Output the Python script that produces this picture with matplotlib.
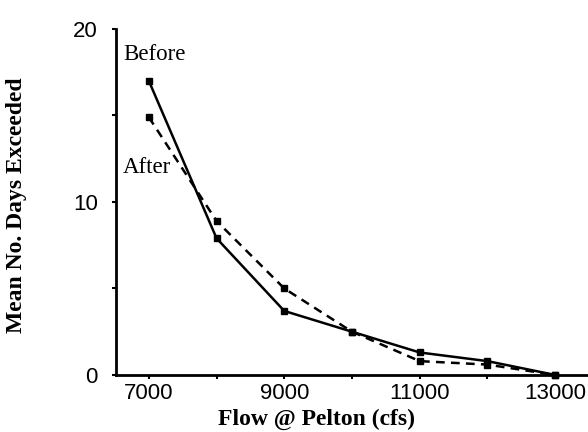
import matplotlib
matplotlib.use("Agg")
import matplotlib.pyplot as plt
from matplotlib.ticker import MultipleLocator

flow = [7000, 8000, 9000, 10000, 11000, 12000, 13000]
before = [17.0, 7.9, 3.7, 2.5, 1.3, 0.8, 0.0]
after = [14.9, 8.9, 5.0, 2.5, 0.8, 0.6, 0.0]
xticklabels = ["7000", "9000", "11000", "13000"]

fig = plt.figure(figsize=(5.88, 4.32), dpi=100)
ax = fig.add_axes([0.197, 0.132, 0.803, 0.801])

ax.plot(flow, before, color="black", lw=1.8, marker="s", ms=5, clip_on=False)
ax.plot(flow, after, color="black", lw=1.8, ls=(0, (3.5, 2.5)), marker="s", ms=5, clip_on=False)

ax.set_xlim(6513, 13484)
ax.set_ylim(0, 20)
for s in ("top", "right"):
    ax.spines[s].set_visible(False)
for s in ("left", "bottom"):
    ax.spines[s].set_linewidth(2)

ax.set_xticks([7000, 9000, 11000, 13000])
ax.set_xticklabels(xticklabels, fontfamily="Liberation Sans", fontsize=16)
ax.xaxis.set_minor_locator(MultipleLocator(1000))
ax.set_yticks([0, 10, 20])
ax.set_yticklabels(["0", "10", "20"], fontfamily="Liberation Sans", fontsize=16)
ax.yaxis.set_minor_locator(MultipleLocator(5))
ax.tick_params(which="both", direction="out", width=1.5, length=3)
ax.tick_params(axis="x", which="major", pad=3)
ax.tick_params(axis="y", which="major", pad=10)

ax.set_xlabel("Flow @ Pelton (cfs)", fontfamily="Liberation Serif", fontweight="bold", fontsize=17)
ax.xaxis.set_label_coords(0.426, -0.098)
ax.set_ylabel("Mean No. Days Exceeded", fontfamily="Liberation Serif", fontweight="bold", fontsize=17)
ax.yaxis.set_label_coords(-0.188, 0.49)

ax.text(6616, 18.55, "Before", fontfamily="Liberation Serif", fontsize=16.5, va="center", ha="left")
ax.text(6616, 12.0, "After", fontfamily="Liberation Serif", fontsize=16.5, va="center", ha="left")

fig.savefig("out.png", dpi=100)
